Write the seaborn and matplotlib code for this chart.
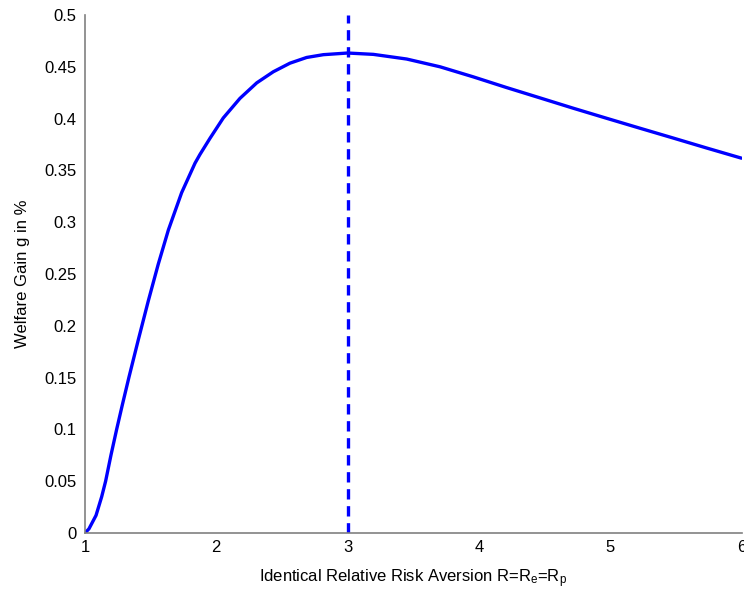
import matplotlib
matplotlib.use("Agg")
import matplotlib.pyplot as plt
import seaborn as sns
import pandas as pd
from matplotlib.ticker import FuncFormatter

# Data
risk_aversion = [1.0, 1.03, 1.084, 1.127, 1.157, 1.198, 1.241, 1.284, 1.335, 1.406,
                 1.482, 1.558, 1.635, 1.736, 1.838, 1.876, 1.952, 2.053, 2.18, 2.308,
                 2.434, 2.561, 2.688, 2.815, 3.0, 3.196, 3.45, 3.704, 3.957, 4.21,
                 4.465, 4.719, 4.973, 5.227, 5.481, 5.735, 6.0]
welfare_gain = [0.0, 0.004, 0.017, 0.035, 0.05, 0.0753, 0.1, 0.1235, 0.1505, 0.1865,
                0.2240, 0.2595, 0.2925, 0.3285, 0.3570, 0.3655, 0.3810, 0.4006, 0.4195, 0.4345,
                0.4452, 0.4535, 0.4590, 0.4617, 0.4633, 0.462, 0.4575, 0.4500, 0.4403, 0.4300,
                0.4200, 0.4100, 0.4003, 0.3907, 0.3812, 0.3716, 0.3618]
peak_R = [3.0, 3.0]
peak_line_y = [0.0, 0.5]
x_ticks = [1, 2, 3, 4, 5, 6]
y_ticks = [0, 0.05, 0.1, 0.15, 0.2, 0.25, 0.3, 0.35, 0.4, 0.45, 0.5]

sns.set_theme(style="white")
plt.rcParams['font.family'] = ['Liberation Sans', 'DejaVu Sans']
plt.rcParams['mathtext.fontset'] = 'custom'
plt.rcParams['mathtext.rm'] = 'Liberation Sans'
plt.rcParams['mathtext.it'] = 'Liberation Sans'

fig = plt.figure(figsize=(7.44, 5.93), dpi=100)
ax = fig.add_axes([85 / 744, 60 / 593, (741.5 - 85) / 744, (533 - 15) / 593])

df = pd.DataFrame({"R": risk_aversion, "g": welfare_gain})
sns.lineplot(data=df, x="R", y="g", ax=ax, color="#0000ff", linewidth=2.4,
             estimator=None, sort=False)
ax.lines[-1].set_solid_joinstyle("round")

df_peak = pd.DataFrame({"R": peak_R, "g": peak_line_y})
sns.lineplot(data=df_peak, x="R", y="g", ax=ax, color="#0000ff", linewidth=2.4,
             estimator=None, sort=False)
ax.lines[-1].set_linestyle((0, (3.1, 2.0)))

ax.set_xlim(1, 6)
ax.set_ylim(0, 0.5)
ax.set_xticks(x_ticks)
ax.set_yticks(y_ticks)
ax.yaxis.set_major_formatter(FuncFormatter(lambda v, p: f"{v:g}"))
ax.xaxis.set_major_formatter(FuncFormatter(lambda v, p: f"{v:g}"))

for side in ["top", "right"]:
    ax.spines[side].set_visible(False)
for side in ["left", "bottom"]:
    ax.spines[side].set_color("#808080")
    ax.spines[side].set_linewidth(1.2)

ax.tick_params(axis="both", direction="in", length=4, width=0.8, color="#333333",
               labelsize=12, labelcolor="black", pad=5)
ax.tick_params(axis="y", pad=6)

ax.set_xlabel(r"Identical Relative Risk Aversion R=R$_\mathregular{e}$=R$_\mathregular{p}$",
              fontsize=12, color="black", labelpad=9)
ax.set_ylabel("Welfare Gain g in %", fontsize=12, color="black", labelpad=10)

fig.savefig("out.png", dpi=100)
